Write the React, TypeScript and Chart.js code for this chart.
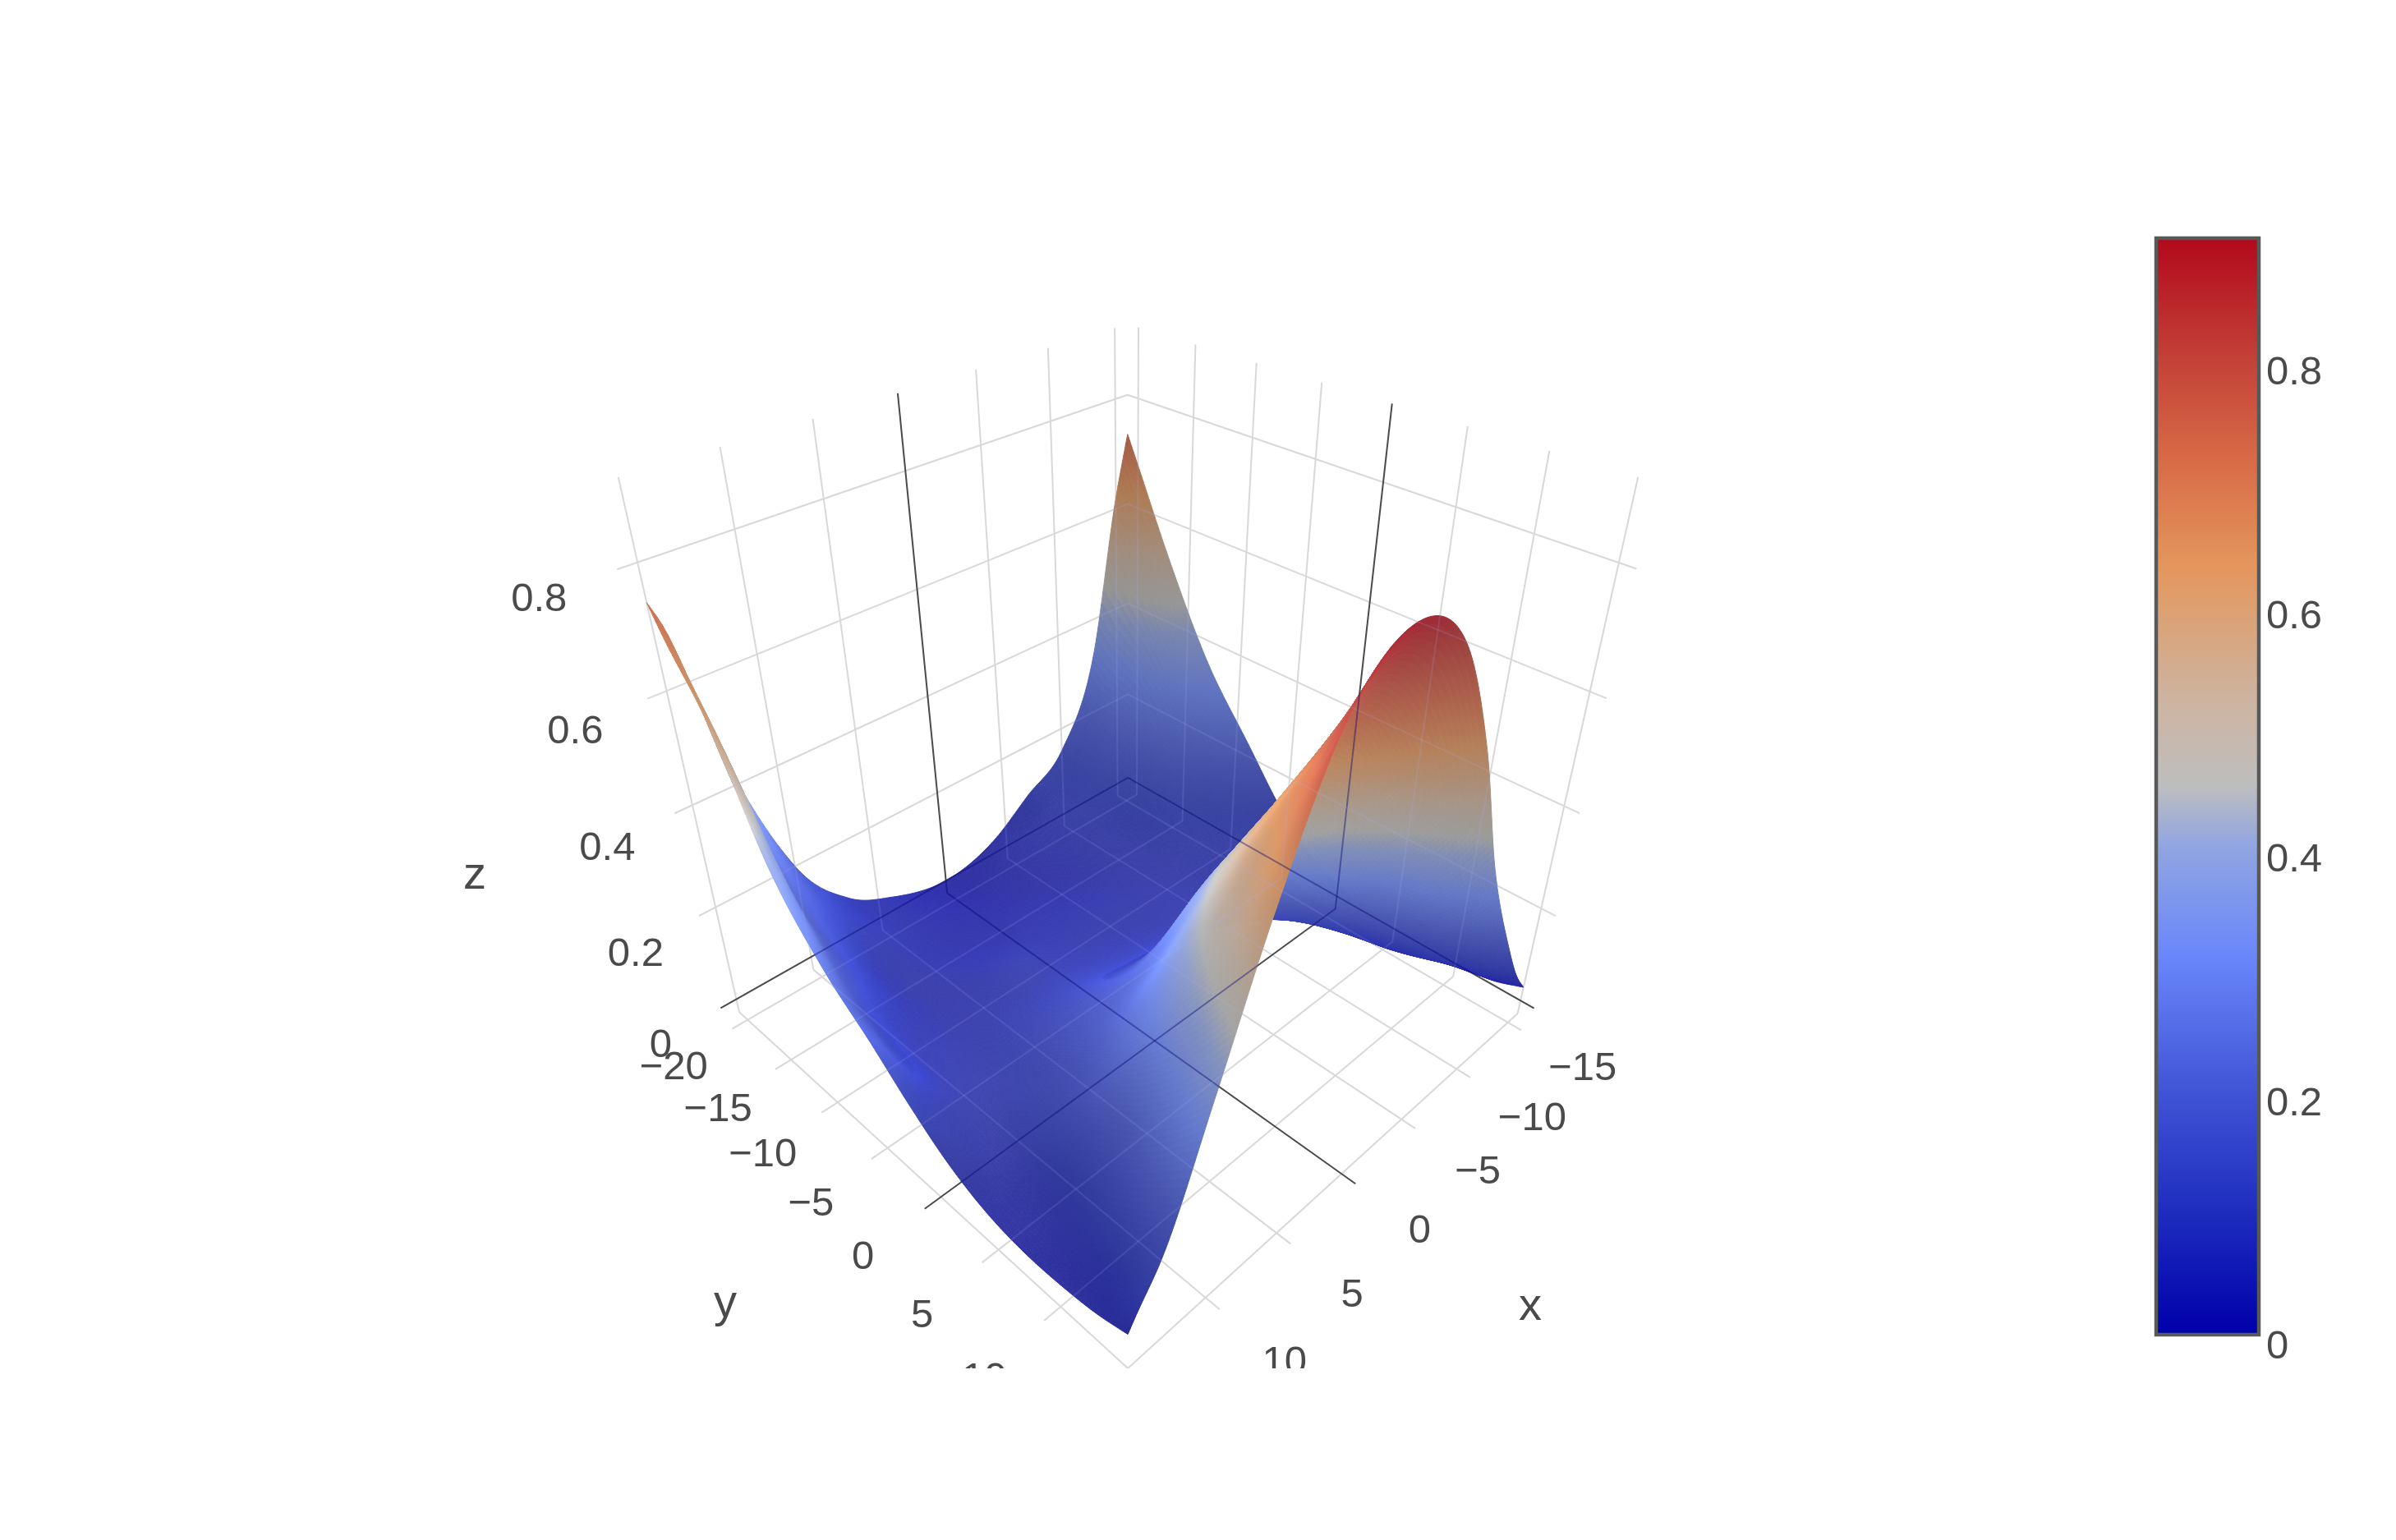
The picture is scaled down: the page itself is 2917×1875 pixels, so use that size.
import React, { useEffect, useRef } from "react";
import { Chart, registerables } from "chart.js";
Chart.register(...registerables);

// ---- data ----
const xGrid = [-16, -15, -13, -10, -7, -4, 0, 4, 7, 10, 13, 14.5, 15];
const yGrid = [-21, -20, -17, -13, -9, -5, -2, 1, 4, 7, 10, 13, 15];
const zY0 = [0.73, 0.62, 0.33, 0.15, 0.09, 0.03, 0, 0.03, 0.08, 0.2, 0.48, 0.7, 0.74];
const zY1 = [0.68, 0.58, 0.31, 0.13, 0.07, 0.03, 0, 0.03, 0.07, 0.18, 0.42, 0.66, 0.7];
const zY2 = [0.53, 0.46, 0.28, 0.12, 0.06, 0.03, 0.01, 0.03, 0.06, 0.13, 0.32, 0.55, 0.6];
const zY3 = [0.355, 0.31, 0.21, 0.09, 0.05, 0.03, 0.03, 0.03, 0.05, 0.08, 0.22, 0.36, 0.39];
const zY4 = [0.23, 0.19, 0.12, 0.07, 0.05, 0.05, 0.05, 0.06, 0.05, 0.06, 0.14, 0.24, 0.27];
const zY5 = [0.11, 0.09, 0.07, 0.05, 0.06, 0.06, 0.07, 0.08, 0.07, 0.06, 0.1, 0.17, 0.19];
const zY6 = [0.05, 0.05, 0.04, 0.05, 0.07, 0.09, 0.11, 0.12, 0.1, 0.07, 0.08, 0.11, 0.125];
const zY7 = [0.02, 0.02, 0.03, 0.07, 0.12, 0.17, 0.21, 0.18, 0.14, 0.09, 0.06, 0.07, 0.07];
const zY8 = [0, 0.01, 0.03, 0.1, 0.2, 0.3, 0.37, 0.27, 0.2, 0.12, 0.05, 0.035, 0.035];
const zY9 = [0, 0.01, 0.04, 0.15, 0.28, 0.4, 0.5, 0.41, 0.29, 0.17, 0.05, 0.025, 0.02];
const zY10 = [0, 0.02, 0.07, 0.21, 0.38, 0.52, 0.63, 0.55, 0.4, 0.22, 0.07, 0.025, 0.02];
const zY11 = [0.01, 0.04, 0.12, 0.29, 0.5, 0.67, 0.78, 0.68, 0.52, 0.3, 0.11, 0.04, 0.03];
const zY12 = [0.03, 0.07, 0.18, 0.375, 0.63, 0.815, 0.89, 0.8, 0.61, 0.37, 0.14, 0.07, 0.045];
const zRows = [zY0, zY1, zY2, zY3, zY4, zY5, zY6, zY7, zY8, zY9, zY10, zY11, zY12];

const xTicks = [-15, -10, -5, 0, 5, 10, 15];
const yTicks = [-20, -15, -10, -5, 0, 5, 10, 15];
const zTicks = [0, 0.2, 0.4, 0.6, 0.8];
const colorbarTicks = [0, 0.2, 0.4, 0.6, 0.8];
const colorStopValues = [0, 0.1, 0.2, 0.31, 0.4, 0.45, 0.52, 0.63, 0.72, 0.8, 0.898];
const colorStopColors = [
  [0, 0, 170], [30, 45, 190], [65, 85, 215], [105, 135, 250], [145, 165, 225], [190, 190, 190],
  [205, 180, 160], [228, 150, 92], [215, 105, 70], [195, 65, 55], [178, 10, 28],
];
const colorMax = 0.898;

// ---- box & camera ----
const X0 = -16, X1 = 15, XT = 16, Y0 = -21, Y1 = 15, YT = 16, ZF = -0.03, ZT = 0.92;
const anchors: number[][] = [
  [-16, -21, 0, 1373, 945.6], [-16, -21, 0.2, 1373, 844], [-16, -21, 0.4, 1373, 734], [-16, -21, 0.6, 1373, 614], [-16, -21, 0.8, 1373, 481],
  [16, -21, 0, 877, 1228], [16, -21, 0.2, 851, 1115.5], [16, -21, 0.4, 821, 991], [16, -21, 0.6, 789, 853], [16, -21, 0.8, 754.5, 697],
  [-16, 16, 0, 1869, 1228], [-16, 16, 0.2, 1895, 1115.5], [-16, 16, 0.4, 1923.5, 991], [-16, 16, 0.6, 1955.5, 853], [-16, 16, 0.8, 1991, 697],
  [15, 15, -0.03, 1372, 1664], [15, -21, -0.03, 898.6, 1232], [-16, 15, -0.03, 1848, 1232],
  [15, -21, 0.91, 753.6, 580.5], [-16, 15, 0.91, 1992, 580.5], [0, -21, 0.8, 1102, 576], [-16, 0, 0.8, 1683, 591],
  [0, 15, -0.03, 1632, 1430], [15, 0, -0.03, 1147, 1458],
];

function norm(x: number, y: number, z: number) {
  return [(x + 16) / 31, (y + 21) / 36, z / 0.9];
}
function solveCamera() {
  const A: number[][] = [];
  const b: number[] = [];
  for (const [x, y, z, sx, sy] of anchors) {
    const [u, v, w] = norm(x, y, z);
    const px = sx / 1000, py = sy / 1000;
    A.push([u, v, w, 1, 0, 0, 0, 0, -px * u, -px * v, -px * w]);
    b.push(px);
    A.push([0, 0, 0, 0, u, v, w, 1, -py * u, -py * v, -py * w]);
    b.push(py);
  }
  const n = 11;
  const M: number[][] = [];
  for (let i = 0; i < n; i++) {
    const row = new Array(n + 1).fill(0);
    for (let j = 0; j < n; j++) for (let k = 0; k < A.length; k++) row[j] += A[k][i] * A[k][j];
    for (let k = 0; k < A.length; k++) row[n] += A[k][i] * b[k];
    M.push(row);
  }
  for (let i = 0; i < n; i++) {
    let p = i;
    for (let r = i + 1; r < n; r++) if (Math.abs(M[r][i]) > Math.abs(M[p][i])) p = r;
    [M[i], M[p]] = [M[p], M[i]];
    for (let r = 0; r < n; r++) {
      if (r === i) continue;
      const f = M[r][i] / M[i][i];
      for (let c = i; c <= n; c++) M[r][c] -= f * M[i][c];
    }
  }
  return M.map((r, i) => r[n] / r[i]);
}
const cam = solveCamera();
function project(x: number, y: number, z: number) {
  const [u, v, w] = norm(x, y, z);
  const d = cam[8] * u + cam[9] * v + cam[10] * w + 1;
  return {
    x: (1000 * (cam[0] * u + cam[1] * v + cam[2] * w + cam[3])) / d,
    y: (1000 * (cam[4] * u + cam[5] * v + cam[6] * w + cam[7])) / d,
  };
}

// ---- smooth drawing between the values read (cubic Hermite with parabolic tangents) ----
function cubic(xs: number[], ys: number[], t: number) {
  const n = xs.length;
  let i = 0;
  while (i < n - 2 && t > xs[i + 1]) i++;
  const h = xs.map((v, k) => (k < n - 1 ? xs[k + 1] - v : 0));
  const s = h.map((v, k) => (k < n - 1 ? (ys[k + 1] - ys[k]) / v : 0));
  const tan = (k: number) => {
    if (k === 0) return s[0];
    if (k === n - 1) return s[n - 2];
    return (h[k] * s[k - 1] + h[k - 1] * s[k]) / (h[k] + h[k - 1]);
  };
  const q = (t - xs[i]) / h[i];
  const q2 = q * q, q3 = q2 * q;
  return (
    (2 * q3 - 3 * q2 + 1) * ys[i] + (q3 - 2 * q2 + q) * h[i] * tan(i) +
    (-2 * q3 + 3 * q2) * ys[i + 1] + (q3 - q2) * h[i] * tan(i + 1)
  );
}
function colorAt(z: number) {
  const v = Math.max(0, Math.min(colorMax, z));
  let i = 0;
  while (i < colorStopValues.length - 2 && v > colorStopValues[i + 1]) i++;
  const t = (v - colorStopValues[i]) / (colorStopValues[i + 1] - colorStopValues[i]);
  return colorStopColors[i].map((c, k) => c + (colorStopColors[i + 1][k] - c) * t);
}

const FONT = '"Liberation Sans", Arial, sans-serif';
const TICK_COLOR = "#4a4a4a";
const GRID = "#d8d8d8";
const ZERO = "#4a4a4a";
const TEXT_DROP = 5;

function line(points: { x: number; y: number }[], zero: boolean) {
  return {
    data: points,
    showLine: true,
    pointRadius: 0,
    borderColor: zero ? ZERO : GRID,
    borderWidth: 2,
    fill: false,
    tension: 0,
    order: zero ? 0 : 1,
  };
}
function gridLines() {
  const out: any[] = [];
  for (const t of xTicks) {
    const zero = t === 0;
    out.push(line([project(t, Y0, ZF), project(t, YT, ZF)], zero));
    out.push(line([project(t, Y0, ZF), project(t, Y0, ZT)], zero));
  }
  for (const t of yTicks) {
    const zero = t === 0;
    out.push(line([project(X0, t, ZF), project(XT, t, ZF)], zero));
    out.push(line([project(X0, t, ZF), project(X0, t, ZT)], zero));
  }
  for (const t of zTicks) {
    const zero = t === 0;
    out.push(line([project(X0, Y0, t), project(XT, Y0, t)], zero));
    out.push(line([project(X0, Y0, t), project(X0, YT, t)], zero));
  }
  return out;
}

const xLabelOffsets = [[91, 52], [92, 56], [93, 60], [95, 65], [92, 71], [96, 75]];
const yLabelOffsets = [[-90, 54], [-89, 56], [-91, 59], [-93, 64], [-95, 69], [-93, 76], [-93, 84]];
const zLabelOffsets = [[-73, 41], [-77, 42], [-82, 38], [-88, 36], [-95, 32]];
const fmt = (v: number) => String(v).replace("-", "\u2212");

const surfacePlugin = {
  id: "surface",
  afterDatasetsDraw(chart: any) {
    const { ctx, scales } = chart;
    const NX = 190, NY = 190;
    const fx: number[] = [], fy: number[] = [];
    for (let i = 0; i <= NX; i++) fx.push(X0 + ((X1 - X0) * i) / NX);
    for (let j = 0; j <= NY; j++) fy.push(Y0 + ((Y1 - Y0) * j) / NY);
    const byRow = zRows.map((r) => fx.map((x) => cubic(xGrid, r, x)));
    const Z: number[][] = fx.map((_, i) => {
      const col = byRow.map((r) => r[i]);
      return fy.map((y) => Math.max(0, cubic(yGrid, col, y)));
    });
    const P = fx.map((x, i) =>
      fy.map((y, j) => {
        const p = project(x, y, Z[i][j]);
        return [scales.x.getPixelForValue(p.x), scales.y.getPixelForValue(p.y)];
      })
    );
    const vl = Math.hypot(1, 1, 0.9);
    const off = document.createElement("canvas");
    off.width = chart.width;
    off.height = chart.height;
    const o = off.getContext("2d")!;
    o.lineWidth = 1;
    const R = 5; // wider stencil keeps shading free of grid creases
    for (let i = 0; i < NX; i++) {
      for (let j = 0; j < NY; j++) {
        const zc = (Z[i][j] + Z[i + 1][j] + Z[i][j + 1] + Z[i + 1][j + 1]) / 4;
        const i0 = Math.max(0, i - R), i1 = Math.min(NX, i + 1 + R);
        const j0 = Math.max(0, j - R), j1 = Math.min(NY, j + 1 + R);
        const du = (((Z[i1][j] - Z[i0][j]) / 0.9) * NX) / (i1 - i0);
        const dv = (((Z[i][j1] - Z[i][j0]) / 0.9) * NY) / (j1 - j0);
        const nl = Math.hypot(du, dv, 1);
        const nz = 1 / nl;
        const d = (-du - dv + 0.9) / nl / vl;
        const fres = 0.3 * Math.pow(1 - Math.abs(d), 3);
        const f = (d >= 0 ? 0.66 : 0.65) + fres;
        const add = d >= 0 ? 22 + 28 * nz * nz : 30;
        const c = colorAt(zc).map((v) => Math.min(255, Math.round(v * f + add)));
        const col = `rgb(${c[0]},${c[1]},${c[2]})`;
        o.fillStyle = col;
        o.strokeStyle = col;
        o.beginPath();
        o.moveTo(P[i][j][0], P[i][j][1]);
        o.lineTo(P[i + 1][j][0], P[i + 1][j][1]);
        o.lineTo(P[i + 1][j + 1][0], P[i + 1][j + 1][1]);
        o.lineTo(P[i][j + 1][0], P[i][j + 1][1]);
        o.closePath();
        o.fill();
        o.stroke();
      }
    }
    // axis lines showing faintly through the sheet, only where the sheet is
    o.globalCompositeOperation = "source-atop";
    o.lineWidth = 2;
    for (const ds of chart.data.datasets) {
      o.strokeStyle = ds.borderColor === ZERO ? "rgba(0,0,110,0.4)" : "rgba(170,180,255,0.14)";
      o.beginPath();
      ds.data.forEach((p: any, k: number) => {
        const px = scales.x.getPixelForValue(p.x), py = scales.y.getPixelForValue(p.y);
        if (k === 0) o.moveTo(px, py);
        else o.lineTo(px, py);
      });
      o.stroke();
    }
    ctx.save();
    ctx.drawImage(off, 0, 0);
    // tick labels and axis titles
    ctx.fillStyle = TICK_COLOR;
    ctx.textAlign = "center";
    ctx.textBaseline = "middle";
    ctx.font = `49px ${FONT}`;
    const put = (txt: string, p: { x: number; y: number }, of: number[]) =>
      ctx.fillText(txt, scales.x.getPixelForValue(p.x) + of[0], scales.y.getPixelForValue(p.y) + of[1] + TEXT_DROP);
    xTicks.slice(0, 6).forEach((t, i) => put(fmt(t), project(t, Y1, ZF), xLabelOffsets[i]));
    yTicks.slice(0, 7).forEach((t, i) => put(fmt(t), project(X1, t, ZF), yLabelOffsets[i]));
    zTicks.forEach((t, i) => put(fmt(t), project(XT, Y0, t), zLabelOffsets[i]));
    ctx.font = `56px ${FONT}`;
    ctx.fillText("x", 1863, 1590 + 2);
    ctx.fillText("y", 883, 1587 + 1);
    ctx.fillText("z", 578, 1064 + 3);
    ctx.restore();
  },
};

const colorbarPlugin = {
  id: "colorbarFrame",
  afterDatasetsDraw(chart: any) {
    const { ctx, chartArea: a, scales } = chart;
    ctx.save();
    ctx.strokeStyle = "#585858";
    ctx.lineWidth = 4.5;
    ctx.strokeRect(a.left - 2, a.top - 2, a.right - a.left + 4, a.bottom - a.top + 4);
    ctx.fillStyle = TICK_COLOR;
    ctx.font = `49px ${FONT}`;
    ctx.textAlign = "left";
    ctx.textBaseline = "middle";
    for (const t of colorbarTicks) ctx.fillText(fmt(t), a.right + 11, scales.y.getPixelForValue(t) + 14 + 3.5);
    ctx.restore();
  },
};

export default function App() {
  const sceneRef = useRef<HTMLCanvasElement>(null);
  const barRef = useRef<HTMLCanvasElement>(null);
  useEffect(() => {
    const scene = new Chart(sceneRef.current!, {
      type: "scatter",
      data: { datasets: gridLines() },
      options: {
        animation: false,
        responsive: false,
        devicePixelRatio: 1,
        layout: { padding: 0 },
        plugins: { legend: { display: false }, tooltip: { enabled: false } },
        scales: {
          x: { type: "linear", min: 0, max: 2560, display: false },
          y: { type: "linear", min: 0, max: 1666, reverse: true, display: false },
        },
      },
      plugins: [surfacePlugin],
    } as any);
    const bar = new Chart(barRef.current!, {
      type: "bar",
      data: {
        labels: ["z"],
        datasets: [
          {
            data: [[0, colorMax]],
            barPercentage: 1,
            categoryPercentage: 1,
            borderSkipped: false,
            backgroundColor: (c: any) => {
              const { ctx, chartArea: a } = c.chart;
              if (!a) return "#888";
              const g = ctx.createLinearGradient(0, a.bottom, 0, a.top);
              colorStopValues.forEach((v, i) => {
                const s = colorStopColors[i];
                g.addColorStop(v / colorMax, `rgb(${s[0]},${s[1]},${s[2]})`);
              });
              return g;
            },
          },
          {
            data: [[0.446, 0.451]],
            barPercentage: 1,
            categoryPercentage: 1,
            backgroundColor: "rgb(205,205,203)",
          },
        ],
      },
      options: {
        animation: false,
        responsive: false,
        devicePixelRatio: 1,
        layout: { padding: { left: 67, right: 169, top: 42, bottom: 127 } },
        plugins: { legend: { display: false }, tooltip: { enabled: false } },
        scales: {
          x: { display: false, stacked: true },
          y: { display: false, min: 0, max: colorMax },
        },
      },
      plugins: [colorbarPlugin],
    } as any);
    return () => {
      scene.destroy();
      bar.destroy();
    };
  }, []);
  return (
    <div style={{ position: "fixed", left: 0, top: 0, width: 2917, height: 1875, background: "#fff", overflow: "hidden" }}>
      <canvas ref={sceneRef} width={2560} height={1666} style={{ position: "absolute", left: 0, top: 0, width: 2560, height: 1666 }} />
      <canvas ref={barRef} width={357} height={1500} style={{ position: "absolute", left: 2560, top: 250, width: 357, height: 1500 }} />
    </div>
  );
}
